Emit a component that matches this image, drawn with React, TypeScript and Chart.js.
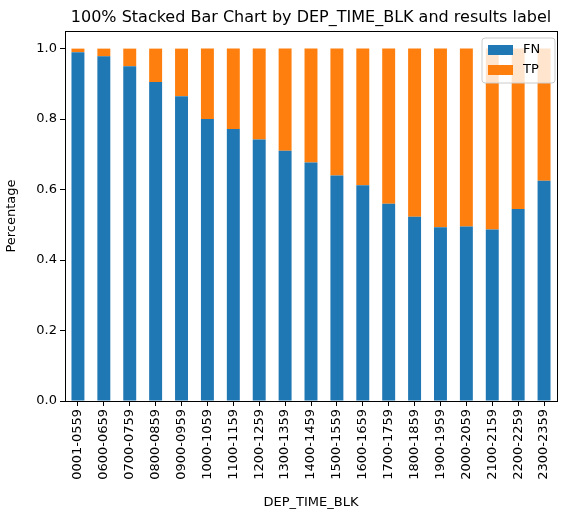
import React, { useRef, useEffect } from "react";
import Chart from "chart.js/auto";

const blocks = ["0001-0559","0600-0659","0700-0759","0800-0859","0900-0959","1000-1059","1100-1159","1200-1259","1300-1359","1400-1459","1500-1559","1600-1659","1700-1759","1800-1859","1900-1959","2000-2059","2100-2159","2200-2259","2300-2359"];
const fnShare = [0.99,0.978,0.95,0.905,0.865,0.80,0.772,0.742,0.71,0.677,0.64,0.612,0.56,0.523,0.493,0.495,0.487,0.545,0.625];
const tpShare = fnShare.map((v) => 1 - v);
const yTicks = [0, 0.2, 0.4, 0.6, 0.8, 1.0];

const FONT = "DejaVu Sans";

const framePlugin = {
  id: "frame",
  afterDraw(chart: any) {
    const { ctx, chartArea: a } = chart;
    ctx.save();
    ctx.strokeStyle = "#000";
    ctx.lineWidth = 1;
    ctx.strokeRect(a.left + 0.5, a.top + 0.5, a.right - a.left, a.bottom - a.top);
    // title
    ctx.fillStyle = "#000";
    ctx.font = `16px '${FONT}'`;
    ctx.textAlign = "center";
    ctx.textBaseline = "middle";
    ctx.fillText("100% Stacked Bar Chart by DEP_TIME_BLK and results label", (a.left + a.right) / 2, 18);
    // legend
    const bx = 482, by = 38, bw = 73, bh = 45;
    ctx.fillStyle = "rgba(255,255,255,0.8)";
    ctx.strokeStyle = "#ccc";
    ctx.beginPath();
    ctx.roundRect(bx, by, bw, bh, 3);
    ctx.fill();
    ctx.stroke();
    ctx.font = `13px '${FONT}'`;
    ctx.textAlign = "left";
    chart.data.datasets.forEach((ds: any, i: number) => {
      const y = by + 12 + i * 20;
      ctx.fillStyle = ds.backgroundColor;
      ctx.fillRect(bx + 6, y - 5, 25, 10);
      ctx.fillStyle = "#000";
      ctx.fillText(ds.label, bx + 41, y);
    });
    ctx.restore();
  },
};

const App = () => {
  const ref = useRef<HTMLCanvasElement>(null);
  useEffect(() => {
    document.body.style.margin = "0";
    if (!ref.current) return;
    const chart = new Chart(ref.current, {
      type: "bar",
      data: {
        labels: blocks,
        datasets: [
          { label: "FN", data: fnShare, backgroundColor: "#1f77b4", barPercentage: 0.5, categoryPercentage: 1 },
          { label: "TP", data: tpShare, backgroundColor: "#ff7f0e", barPercentage: 0.5, categoryPercentage: 1 },
        ],
      },
      options: {
        animation: false,
        responsive: false,
        layout: { padding: { top: 31, right: 11, left: 0, bottom: 6 } },
        plugins: { legend: { display: false }, tooltip: { enabled: false } },
        scales: {
          x: {
            stacked: true,
            grid: { drawOnChartArea: false, offset: false, color: "#000", tickLength: 5 },
            border: { color: "#000" },
            ticks: { color: "#000", font: { family: FONT, size: 13 }, maxRotation: 90, minRotation: 90, autoSkip: false },
            title: { display: true, text: "DEP_TIME_BLK", color: "#000", font: { family: FONT, size: 13 }, padding: 0 },
            afterFit: (s: any) => { s.height = 109; },
          },
          y: {
            stacked: true,
            min: 0,
            max: 1.05,
            grid: { drawOnChartArea: false, color: "#000", tickLength: 5 },
            border: { color: "#000" },
            afterBuildTicks: (s: any) => { s.ticks = yTicks.map((v) => ({ value: v })); },
            ticks: { color: "#000", font: { family: FONT, size: 13 }, callback: (v: any) => Number(v).toFixed(1) },
            title: { display: true, text: "Percentage", color: "#000", font: { family: FONT, size: 13 }, padding: 4 },
            afterFit: (s: any) => { s.width = 65; },
          },
        },
      },
      plugins: [framePlugin],
    });
    return () => chart.destroy();
  }, []);
  return <canvas ref={ref} width={568} height={516} style={{ display: "block" }} />;
};

export default App;
